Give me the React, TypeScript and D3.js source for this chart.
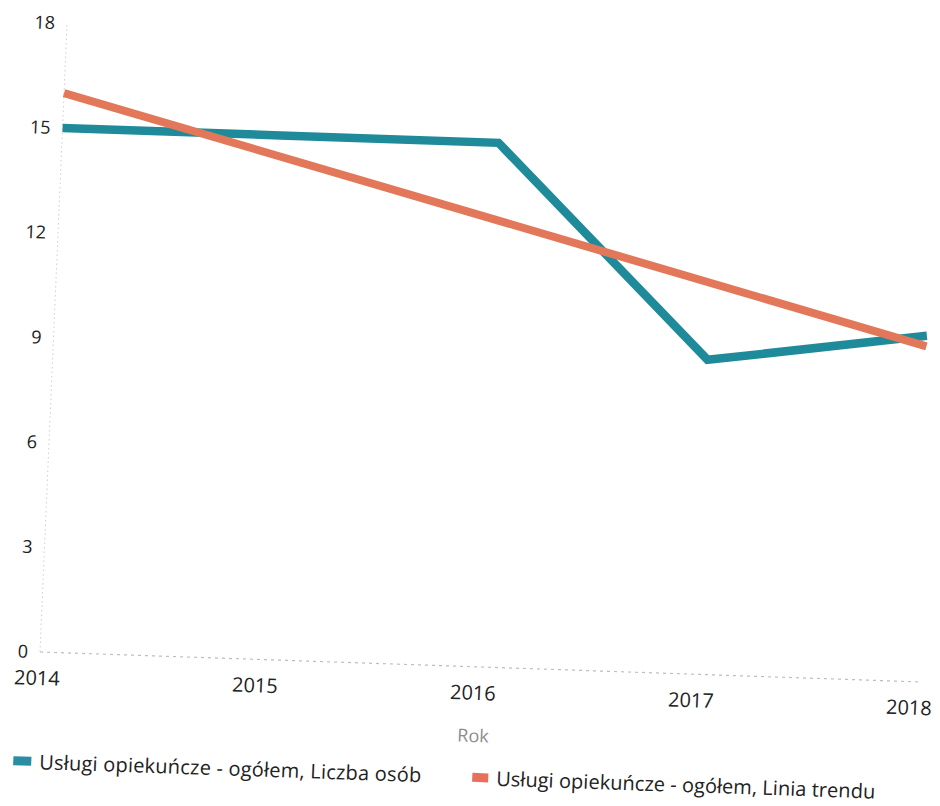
import React from "react";
import * as d3 from "d3";

const years = [2014, 2015, 2016, 2017, 2018];
const liczbaOsob = [15, 15, 15, 9, 9.9];
const trendYears = [2014, 2018];
const trendValues = [16.0, 9.6];
const yTicks = [0, 3, 6, 9, 12, 15, 18];

const seriesNames = [
  "Usługi opiekuńcze - ogółem, Liczba osób",
  "Usługi opiekuńcze - ogółem, Linia trendu",
];

const TEAL = "#1f8a99";
const ORANGE = "#e27859";
const FONT = "'Open Sans', 'Noto Sans', sans-serif";

const App: React.FC = () => {
  // plot frame: origin at the axis corner, y grows downwards
  const width = 872;
  const height = 628.8;

  const x = d3.scaleLinear().domain([2014, 2018]).range([0, width]);
  const y = d3.scaleLinear().domain([0, 18]).range([0, -height]);

  const line = d3
    .line<[number, number]>()
    .x((d) => x(d[0]))
    .y((d) => y(d[1]));

  const teal = years.map((yr, i) => [yr, liczbaOsob[i]] as [number, number]);
  const trend = trendYears.map((yr, i) => [yr, trendValues[i]] as [number, number]);

  // the reference is a slightly skewed scan, so the whole chart is tilted a bit
  const tilt = "matrix(1, 0.034, -0.043, 1, 40, 652)";

  return (
    <svg
      width={940}
      height={806}
      style={{ position: "absolute", left: 0, top: 0, background: "#fff" }}
      fontFamily={FONT}
    >
      <g transform={tilt}>
        {/* y axis and baseline, light dotted */}
        <line
          x1={0}
          x2={0}
          y1={0}
          y2={y(18)}
          stroke="#cfcfcf"
          strokeWidth={1}
          strokeDasharray="1.5,3"
        />
        <line
          x1={0}
          x2={width + 8}
          y1={0}
          y2={0}
          stroke="#b9bfc4"
          strokeWidth={1.2}
          strokeDasharray="3,4"
        />

        {yTicks.map((t) => (
          <text
            key={t}
            x={-12}
            y={y(t)}
            dy="0.35em"
            textAnchor="end"
            fontSize={18}
            fill="#222"
          >
            {t}
          </text>
        ))}

        {years.map((yr) => (
          <text
            key={yr}
            x={x(yr) - 2}
            y={26}
            dy="0.35em"
            textAnchor="middle"
            fontSize={20}
            fill="#222"
          >
            {yr}
          </text>
        ))}

        <text x={436} y={69} dy="0.35em" textAnchor="middle" fontSize={18} fill="#8c8c8c">
          Rok
        </text>

        <path
          d={line(teal) ?? ""}
          fill="none"
          stroke={TEAL}
          strokeWidth={8.5}
          strokeLinejoin="miter"
          strokeLinecap="butt"
        />
        <path
          d={line(trend) ?? ""}
          fill="none"
          stroke={ORANGE}
          strokeWidth={8}
          strokeLinecap="butt"
        />

        {/* legend */}
        <rect x={-22} y={105} width={18} height={9} fill="#2a8ea3" />
        <text x={4} y={110} dy="0.35em" fontSize={20} textLength={382} fill="#222">
          {seriesNames[0]}
        </text>
        <rect x={437} y={106} width={16} height={9} fill="#e8705a" />
        <text x={461} y={111} dy="0.35em" fontSize={20} textLength={379} fill="#222">
          {seriesNames[1]}
        </text>
      </g>
    </svg>
  );
};

export default App;
